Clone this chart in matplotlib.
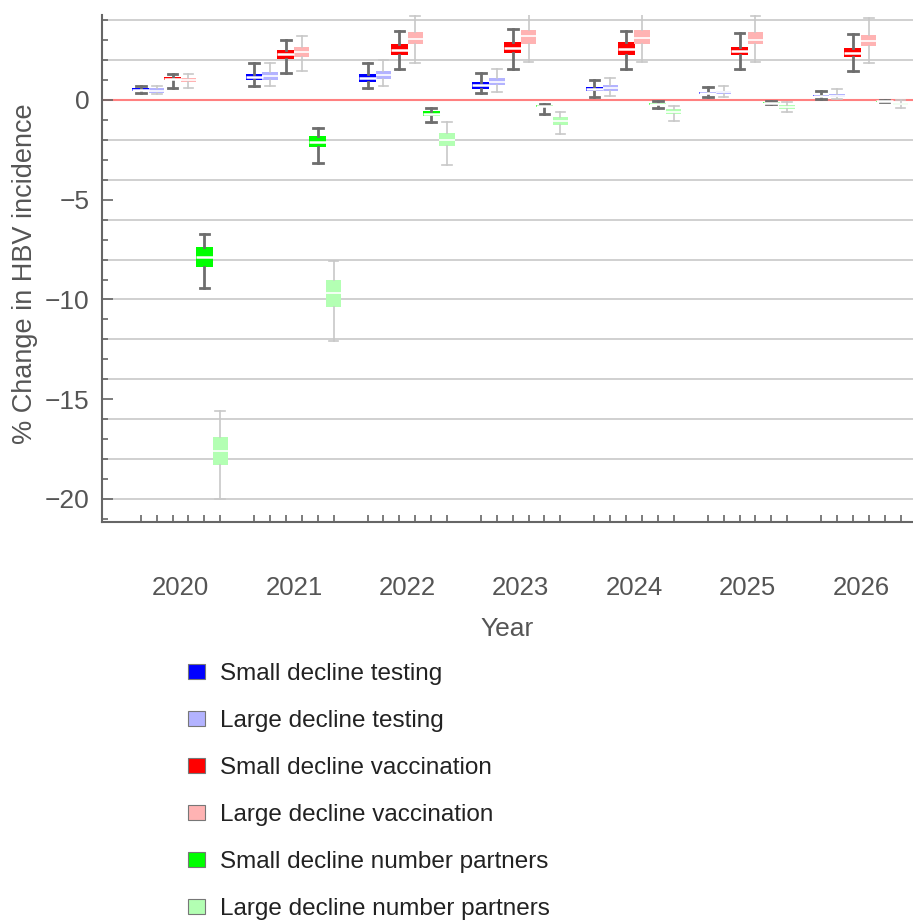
import numpy as np
import matplotlib
matplotlib.use('Agg')
import matplotlib.pyplot as plt
from matplotlib.patches import Patch
from matplotlib.ticker import MultipleLocator, FixedLocator

plt.rcParams['font.family'] = ['Liberation Sans', 'DejaVu Sans']

years = [2020, 2021, 2022, 2023, 2024, 2025, 2026]

# each row per year: whisker low, q1, median, q3, whisker high
small_testing = [[0.33, 0.45, 0.52, 0.60, 0.72],
                 [0.70, 1.00, 1.17, 1.30, 1.83],
                 [0.62, 0.92, 1.10, 1.30, 1.83],
                 [0.33, 0.53, 0.75, 0.92, 1.37],
                 [0.13, 0.47, 0.55, 0.63, 1.00],
                 [0.13, 0.28, 0.33, 0.38, 0.63],
                 [0.03, 0.18, 0.22, 0.27, 0.45]]
large_testing = [[0.30, 0.35, 0.47, 0.60, 0.72],
                 [0.70, 1.00, 1.20, 1.38, 1.83],
                 [0.70, 1.03, 1.25, 1.47, 2.00],
                 [0.42, 0.75, 0.92, 1.08, 1.53],
                 [0.22, 0.47, 0.60, 0.75, 1.08],
                 [0.13, 0.30, 0.38, 0.47, 0.72],
                 [0.05, 0.17, 0.22, 0.28, 0.53]]
small_vacc = [[0.60, 1.00, 1.07, 1.15, 1.30],
              [1.37, 2.05, 2.28, 2.50, 3.03],
              [1.53, 2.25, 2.50, 2.78, 3.47],
              [1.53, 2.33, 2.62, 2.88, 3.58],
              [1.53, 2.25, 2.55, 2.88, 3.47],
              [1.53, 2.25, 2.47, 2.67, 3.38],
              [1.45, 2.13, 2.37, 2.58, 3.30]]
large_vacc = [[0.60, 0.92, 1.02, 1.12, 1.30],
              [1.45, 2.17, 2.42, 2.67, 3.23],
              [1.83, 2.80, 3.08, 3.42, 4.22],
              [1.92, 2.80, 3.22, 3.50, 4.37],
              [1.92, 2.80, 3.12, 3.50, 4.33],
              [1.92, 2.80, 3.03, 3.42, 4.22],
              [1.83, 2.70, 2.97, 3.25, 4.13]]
small_partners = [[-9.43, -8.37, -7.87, -7.37, -6.73],
                  [-3.17, -2.37, -2.10, -1.83, -1.40],
                  [-1.13, -0.80, -0.68, -0.55, -0.38],
                  [-0.70, -0.35, -0.30, -0.27, -0.18],
                  [-0.42, -0.25, -0.20, -0.15, -0.05],
                  [-0.22, -0.17, -0.13, -0.09, -0.03],
                  [-0.12, -0.09, -0.06, -0.03, 0.02]]
large_partners = [[-20.0, -18.30, -17.60, -16.87, -15.58],
                  [-12.1, -10.38, -9.70, -9.02, -8.05],
                  [-3.25, -2.33, -2.00, -1.67, -1.13],
                  [-1.70, -1.28, -1.05, -0.83, -0.58],
                  [-1.03, -0.72, -0.58, -0.45, -0.30],
                  [-0.62, -0.45, -0.35, -0.25, -0.08],
                  [-0.42, -0.25, -0.20, -0.13, 0.00]]

series = [small_testing, large_testing, small_vacc, large_vacc,
          small_partners, large_partners]
labels = ['Small decline testing', 'Large decline testing',
          'Small decline vaccination', 'Large decline vaccination',
          'Small decline number partners', 'Large decline number partners']
colors = ['#0000ff', '#b3b3ff', '#ff0000', '#ffb3b3', '#00ff00', '#b3ffb3']

txt = '#555555'
fig = plt.figure(figsize=(9.13, 9.24), dpi=100)
ax = fig.add_axes([0.1114, 0.4354, 0.8886, 0.5484])

step = 0.14
all_pos = []
for j, (data, col) in enumerate(zip(series, colors)):
    small = (j % 2 == 0)
    pos = [i + (j - 2.5) * step for i in range(len(years))]
    all_pos += pos
    stats = [dict(whislo=d[0], q1=d[1], med=d[2], q3=d[3], whishi=d[4])
             for d in data]
    wcol = '#6e6e6e' if small else '#c8c8c8'
    wlw = 2.0 if small else 1.2
    ax.bxp(stats, positions=pos, widths=0.15 if small else 0.135,
           capwidths=0.085, patch_artist=True, showfliers=False,
           boxprops=dict(facecolor=col, edgecolor=col, linewidth=0),
           medianprops=dict(color='white', linewidth=1.8 if small else 1.2),
           whiskerprops=dict(color=wcol, linewidth=wlw),
           capprops=dict(color=wcol, linewidth=wlw), zorder=3)

for y in np.arange(-20, 5, 2):
    if y != 0:
        ax.axhline(y, color='#c4c4c4', lw=1.1, zorder=0)
ax.axhline(0, color='#ff8080', lw=1.5, zorder=1)

ax.set_xlim(-0.695, 6.46)
ax.set_ylim(-21.14, 4.26)

ax.yaxis.set_major_locator(MultipleLocator(5))
ax.yaxis.set_minor_locator(MultipleLocator(1))
ax.set_xticks(range(len(years)))
ax.set_xticklabels([str(y) for y in years])
ax.xaxis.set_minor_locator(FixedLocator(all_pos))

ax.tick_params(axis='x', which='major', length=0, pad=39, labelsize=18.5,
               labelcolor=txt)
ax.tick_params(axis='x', which='minor', direction='in', length=5,
               width=1.2, color='#666666')
ax.tick_params(axis='y', which='major', direction='in', length=8,
               width=1.2, color='#666666', pad=9, labelsize=19,
               labelcolor=txt)
ax.tick_params(axis='y', which='minor', direction='in', length=4,
               width=1.2, color='#666666')

for s in ['top', 'right']:
    ax.spines[s].set_visible(False)
for s in ['left', 'bottom']:
    ax.spines[s].set_color('#666666')
    ax.spines[s].set_linewidth(1.5)

ax.set_xlabel('Year', fontsize=19, color=txt, labelpad=12)
ax.set_ylabel('% Change in HBV incidence', fontsize=19.5, color=txt)
ax.yaxis.set_label_coords(-0.079, 0.49)

handles = [Patch(facecolor=c, edgecolor='#777777', linewidth=0.8)
           for c in colors]
fig.legend(handles, labels, loc='upper left',
           bbox_to_anchor=(188 / 913, 1 - 663 / 924), frameon=False,
           fontsize=17.5, labelcolor='#222222', borderpad=0,
           borderaxespad=0, handlelength=0.7, handleheight=0.62,
           handletextpad=0.62, labelspacing=1.03)

fig.savefig('out.png', dpi=100)
